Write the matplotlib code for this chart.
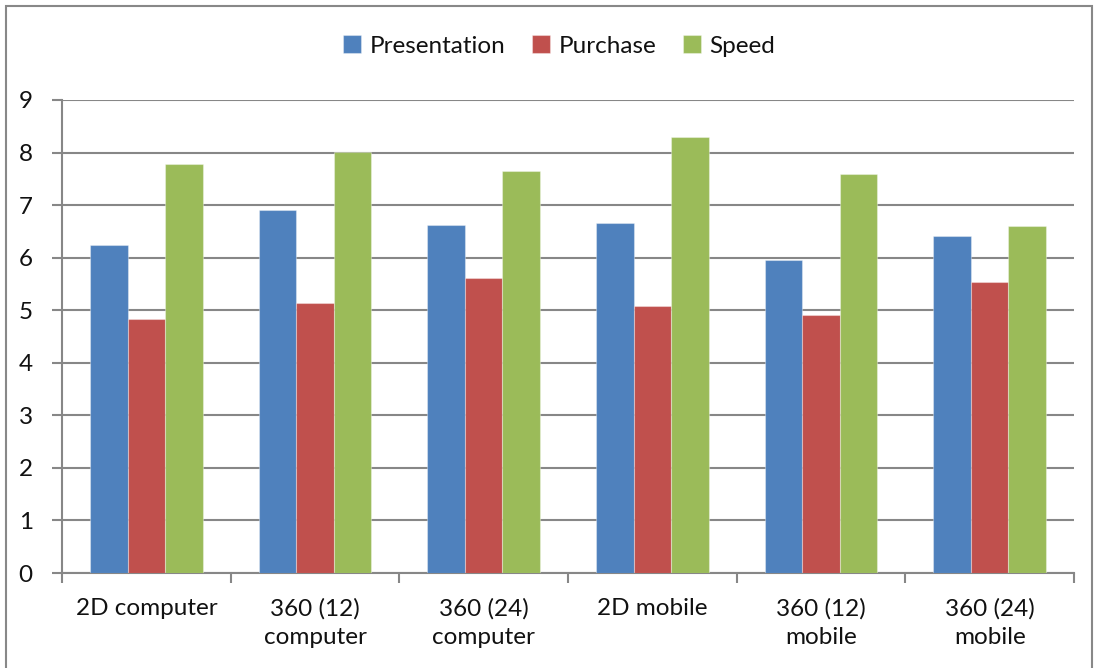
import matplotlib
matplotlib.use("Agg")
import matplotlib.pyplot as plt
import numpy as np
from matplotlib.patches import Rectangle

categories = ["2D computer", "360 (12)\ncomputer", "360 (24)\ncomputer",
              "2D mobile", "360 (12)\nmobile", "360 (24)\nmobile"]
presentation = [6.24, 6.91, 6.62, 6.66, 5.96, 6.41]
purchase = [4.83, 5.14, 5.61, 5.08, 4.91, 5.54]
speed = [7.78, 8.01, 7.65, 8.30, 7.59, 6.60]
series_names = ["Presentation", "Purchase", "Speed"]
colors = ["#4F81BD", "#C0504D", "#9BBB59"]

plt.rcParams['font.family'] = ['Lato', 'DejaVu Sans']
fs = 17.5
fig = plt.figure(figsize=(10.98, 6.68), dpi=100)
W, H = 1098, 668
ax = fig.add_axes([62 / W, (H - 573) / H, (1074 - 62) / W, (573 - 100) / H])

x = np.arange(len(categories))
bw = 0.223
for i, (vals, name, c) in enumerate(zip([presentation, purchase, speed], series_names, colors)):
    ax.bar(x + (i - 1) * bw, vals, bw, color=c, label=name, zorder=3,
           edgecolor=(1, 1, 1, 0.35), linewidth=0.8)

ax.set_xlim(-0.5, len(categories) - 0.5)
ax.set_ylim(0, 9)
ax.set_yticks(range(10))
ax.yaxis.grid(True, color="#878787", linewidth=1.5, zorder=0)
ax.set_axisbelow(True)
for s in ["top", "right"]:
    ax.spines[s].set_visible(False)
for s in ["left", "bottom"]:
    ax.spines[s].set_color("#878787")
    ax.spines[s].set_linewidth(1.5)
ax.set_xticks(np.arange(len(categories) + 1) - 0.5)
ax.set_xticklabels([])
ax.set_xticks(x, minor=True)
ax.set_xticklabels(categories, minor=True, fontsize=fs, linespacing=1.45, color="#111111")
ax.tick_params(axis="x", which="major", length=7, width=1.5, color="#878787", direction="out")
ax.tick_params(axis="x", which="minor", length=0, pad=18)
ax.tick_params(axis="y", length=7, width=1.5, color="#878787", labelsize=fs, pad=14,
               labelcolor="#111111")
for lab in ax.get_xticklabels(minor=True):
    lab.set_verticalalignment("top")

leg = fig.legend(loc="center", bbox_to_anchor=(559 / W, 1 - 46 / H), ncol=3, frameon=False,
                 fontsize=fs, handlelength=0.75, handleheight=0.75, handletextpad=0.35,
                 columnspacing=1.1)
for t in leg.get_texts():
    t.set_color("#111111")

fig.patches.append(Rectangle((6 / W, -0.05), (1092 - 6) / W, 1.05 - 6 / H,
                             transform=fig.transFigure, fill=False,
                             edgecolor="#888888", linewidth=1.5))
fig.savefig("out.png", dpi=100)
